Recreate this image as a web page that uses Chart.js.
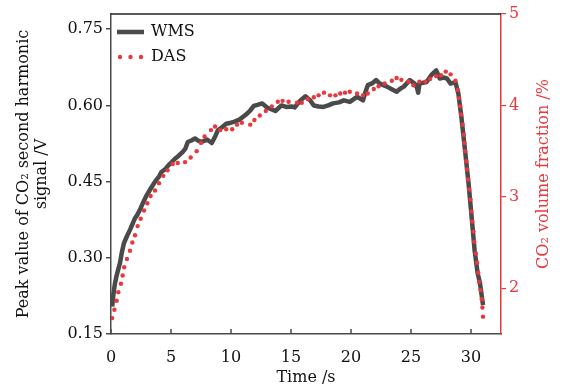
<!DOCTYPE html>
<html>
<head>
<meta charset="utf-8">
<script src="https://cdn.jsdelivr.net/npm/chart.js@4.4.1/dist/chart.umd.min.js"></script>
<style>
  html, body { margin: 0; padding: 0; background: #fff; }
  #wrap { width: 562px; height: 389px; }
</style>
</head>
<body>
<div id="wrap"><canvas id="co2Chart" width="562" height="389"></canvas></div>
<script>
// WMS peak signal (V), left axis
const wmsTime = [0.1, 0.2, 0.33, 0.5, 0.75, 0.9, 1.08, 1.3, 1.6, 2.0, 2.2, 2.4, 2.7, 2.97, 3.3, 3.67, 4.0, 4.2, 4.5, 4.78,
  5.0, 5.33, 5.6, 6.0, 6.2, 6.4, 6.7, 7.0, 7.3, 7.55, 8.0, 8.4, 8.7, 8.9, 9.2, 9.6, 10.0, 10.3, 10.7, 11.2,
  11.6, 11.9, 12.2, 12.6, 13.0, 13.4, 13.7, 14.2, 14.6, 15.05, 15.3, 15.75, 16.2, 16.6, 16.9, 17.3, 17.7, 18.1, 18.5, 19.0,
  19.4, 19.9, 20.2, 20.5, 21.0, 21.2, 21.4, 21.8, 22.1, 22.4, 23.0, 23.4, 23.8, 24.1, 24.4, 24.9, 25.3, 25.5, 25.6, 25.7,
  26.3, 26.7, 27.1, 27.4, 27.7, 28.0, 28.3, 28.7, 28.95, 29.2, 29.5, 29.8, 30.05, 30.3, 30.55, 30.75, 31.0];
const wmsSignal = [0.204, 0.228, 0.25, 0.268, 0.29, 0.31, 0.329, 0.341, 0.356, 0.378, 0.385, 0.394, 0.41, 0.423, 0.436, 0.45, 0.46, 0.469, 0.474, 0.482,
  0.487, 0.495, 0.5, 0.509, 0.515, 0.528, 0.531, 0.535, 0.53, 0.528, 0.533, 0.526, 0.54, 0.551, 0.556, 0.564, 0.566, 0.568, 0.572, 0.581,
  0.59, 0.599, 0.601, 0.604, 0.596, 0.592, 0.589, 0.6, 0.597, 0.598, 0.596, 0.609, 0.618, 0.61, 0.6, 0.598, 0.597, 0.6, 0.604, 0.606,
  0.61, 0.607, 0.612, 0.617, 0.61, 0.626, 0.64, 0.644, 0.65, 0.643, 0.637, 0.632, 0.627, 0.633, 0.637, 0.65, 0.643, 0.635, 0.625, 0.643,
  0.646, 0.66, 0.669, 0.653, 0.655, 0.653, 0.643, 0.646, 0.623, 0.577, 0.512, 0.446, 0.381, 0.315, 0.27, 0.25, 0.207];

// DAS volume fraction (%), right axis
const dasTime = [0.1, 0.28, 0.47, 0.61, 0.83, 0.97, 1.1, 1.33, 1.58, 1.78, 2.0, 2.22, 2.47, 2.75, 3.03, 3.3, 3.67, 4.0, 4.36, 4.72,
  5.14, 5.56, 6.17, 6.64, 7.14, 7.5, 7.8, 8.33, 8.67, 9.1, 9.6, 10.1, 10.5, 10.9, 11.6, 11.95, 12.4, 12.9, 13.4, 13.9,
  14.3, 14.8, 15.5, 15.9, 16.4, 16.9, 17.3, 17.75, 18.25, 18.7, 19.1, 19.5, 19.9, 20.5, 21.0, 21.4, 21.9, 22.3, 22.8, 23.4,
  23.8, 24.2, 24.8, 25.2, 25.7, 26.2, 26.6, 27.1, 27.5, 27.9, 28.3, 28.7, 28.9, 29.0, 29.1, 29.17, 29.3, 29.4, 29.45, 29.5,
  29.6, 29.67, 29.75, 29.85, 29.95, 30.03, 30.1, 30.2, 30.27, 30.4, 30.5, 30.6, 30.67, 30.8, 30.9, 30.95, 31.0];
const dasFraction = [1.674, 1.765, 1.863, 1.958, 2.049, 2.14, 2.23, 2.32, 2.41, 2.5, 2.58, 2.68, 2.76, 2.85, 2.93, 3.01, 3.07, 3.15, 3.23, 3.29,
  3.36, 3.37, 3.38, 3.43, 3.5, 3.59, 3.66, 3.73, 3.77, 3.73, 3.74, 3.74, 3.79, 3.81, 3.79, 3.84, 3.89, 3.94, 3.99, 4.04,
  4.05, 4.04, 4.03, 4.03, 4.07, 4.09, 4.11, 4.14, 4.11, 4.11, 4.13, 4.14, 4.15, 4.13, 4.11, 4.13, 4.18, 4.21, 4.24, 4.27,
  4.3, 4.28, 4.26, 4.22, 4.26, 4.26, 4.29, 4.32, 4.33, 4.37, 4.34, 4.27, 4.17, 4.08, 3.99, 3.9, 3.79, 3.68, 3.59, 3.5,
  3.39, 3.3, 3.19, 3.08, 2.97, 2.84, 2.73, 2.62, 2.51, 2.38, 2.28, 2.17, 2.07, 1.98, 1.88, 1.79, 1.69];

const timeTicks = [0, 5, 10, 15, 20, 25, 30];
const signalTicks = [0.15, 0.30, 0.45, 0.60, 0.75];
const fractionTicks = [2, 3, 4, 5];

const SERIF = '"DejaVu Serif", "Liberation Serif", serif';
const GRAY = '#4a4a4a';
const RED = '#e8383d';

function pts(xs, ys) {
  return xs.map((x, i) => ({ x: x, y: ys[i] }));
}

// draws inward x ticks, the top frame line, the right title (reads upward) and the legend
const framePlugin = {
  id: 'frame',
  afterDraw(chart) {
    const { ctx, chartArea: a, scales } = chart;
    ctx.save();
    ctx.strokeStyle = '#222';
    ctx.lineWidth = 1.5;
    ctx.beginPath();
    ctx.moveTo(a.left, a.top);
    ctx.lineTo(a.right, a.top);
    ctx.stroke();

    ctx.strokeStyle = GRAY;
    timeTicks.forEach(t => {
      const x = scales.x.getPixelForValue(t);
      ctx.beginPath();
      ctx.moveTo(x, a.bottom);
      ctx.lineTo(x, a.bottom - 5);
      ctx.stroke();
    });

    // right axis title, rotated like the left one
    ctx.save();
    ctx.translate(544, (a.top + a.bottom) / 2);
    ctx.rotate(-Math.PI / 2);
    ctx.fillStyle = RED;
    ctx.font = '16px ' + SERIF;
    ctx.textAlign = 'center';
    ctx.textBaseline = 'middle';
    ctx.fillText('CO\u2082 volume fraction /%', 0, 0);
    ctx.restore();

    // legend
    const lx = a.left + 6, ly1 = a.top + 18, ly2 = a.top + 43;
    ctx.strokeStyle = GRAY;
    ctx.lineWidth = 4.5;
    ctx.beginPath();
    ctx.moveTo(lx, ly1);
    ctx.lineTo(lx + 27, ly1);
    ctx.stroke();
    ctx.fillStyle = RED;
    [0, 1, 2].forEach(k => {
      ctx.beginPath();
      ctx.arc(lx + 3 + k * 10.5, ly2, 2.2, 0, Math.PI * 2);
      ctx.fill();
    });
    ctx.fillStyle = '#111';
    ctx.font = '16px ' + SERIF;
    ctx.textBaseline = 'middle';
    ctx.fillText('WMS', lx + 34, ly1);
    ctx.fillText('DAS', lx + 34, ly2);
    ctx.restore();
  }
};

new Chart(document.getElementById('co2Chart'), {
  type: 'line',
  data: {
    datasets: [{
      label: 'WMS',
      data: pts(wmsTime, wmsSignal),
      yAxisID: 'y',
      borderColor: GRAY,
      borderWidth: 4.5,
      borderJoinStyle: 'round',
      pointRadius: 0,
      tension: 0,
      order: 2
    }, {
      label: 'DAS',
      data: pts(dasTime, dasFraction),
      yAxisID: 'y2',
      showLine: false,
      pointRadius: 2.2,
      pointBorderWidth: 0,
      pointBackgroundColor: RED,
      order: 1
    }]
  },
  options: {
    responsive: false,
    animation: false,
    layout: { padding: { top: 14, left: 0, right: 0, bottom: 0 } },
    plugins: {
      legend: { display: false },
      tooltip: { enabled: false }
    },
    scales: {
      x: {
        type: 'linear',
        min: 0,
        max: 32.5,
        afterBuildTicks: s => { s.ticks = timeTicks.map(v => ({ value: v })); },
        afterFit: s => { s.height = 55; },
        grid: { display: false },
        border: { color: GRAY, width: 1.5 },
        ticks: { color: '#111', font: { family: SERIF, size: 16 }, padding: 6, maxRotation: 0 },
        title: { display: true, text: 'Time /s', color: '#111', font: { family: SERIF, size: 16 }, padding: { top: 0, bottom: 2 } }
      },
      y: {
        position: 'left',
        min: 0.15,
        max: 0.78,
        afterBuildTicks: s => { s.ticks = signalTicks.map(v => ({ value: v })); },
        afterFit: s => { s.width = 111; },
        grid: { drawOnChartArea: false, color: GRAY, lineWidth: 1.5, tickLength: 5 },
        border: { color: GRAY, width: 1.5 },
        ticks: { color: '#111', font: { family: SERIF, size: 16 }, padding: 3, callback: v => v.toFixed(2) },
        title: {
          display: true,
          text: ['Peak value of CO\u2082 second harmonic', 'signal /V'],
          color: '#111',
          font: { family: SERIF, size: 16, lineHeight: 1.1 },
          padding: { top: 15, bottom: 0 }
        }
      },
      y2: {
        position: 'right',
        min: 1.5,
        max: 5,
        afterBuildTicks: s => { s.ticks = fractionTicks.map(v => ({ value: v })); },
        afterFit: s => { s.width = 61; },
        grid: { drawOnChartArea: false, color: RED, lineWidth: 1.2, tickLength: 5 },
        border: { color: RED, width: 1.5 },
        ticks: { color: RED, font: { family: SERIF, size: 16 }, padding: 3 },
        title: { display: false }
      }
    }
  },
  plugins: [framePlugin]
});
</script>
</body>
</html>
